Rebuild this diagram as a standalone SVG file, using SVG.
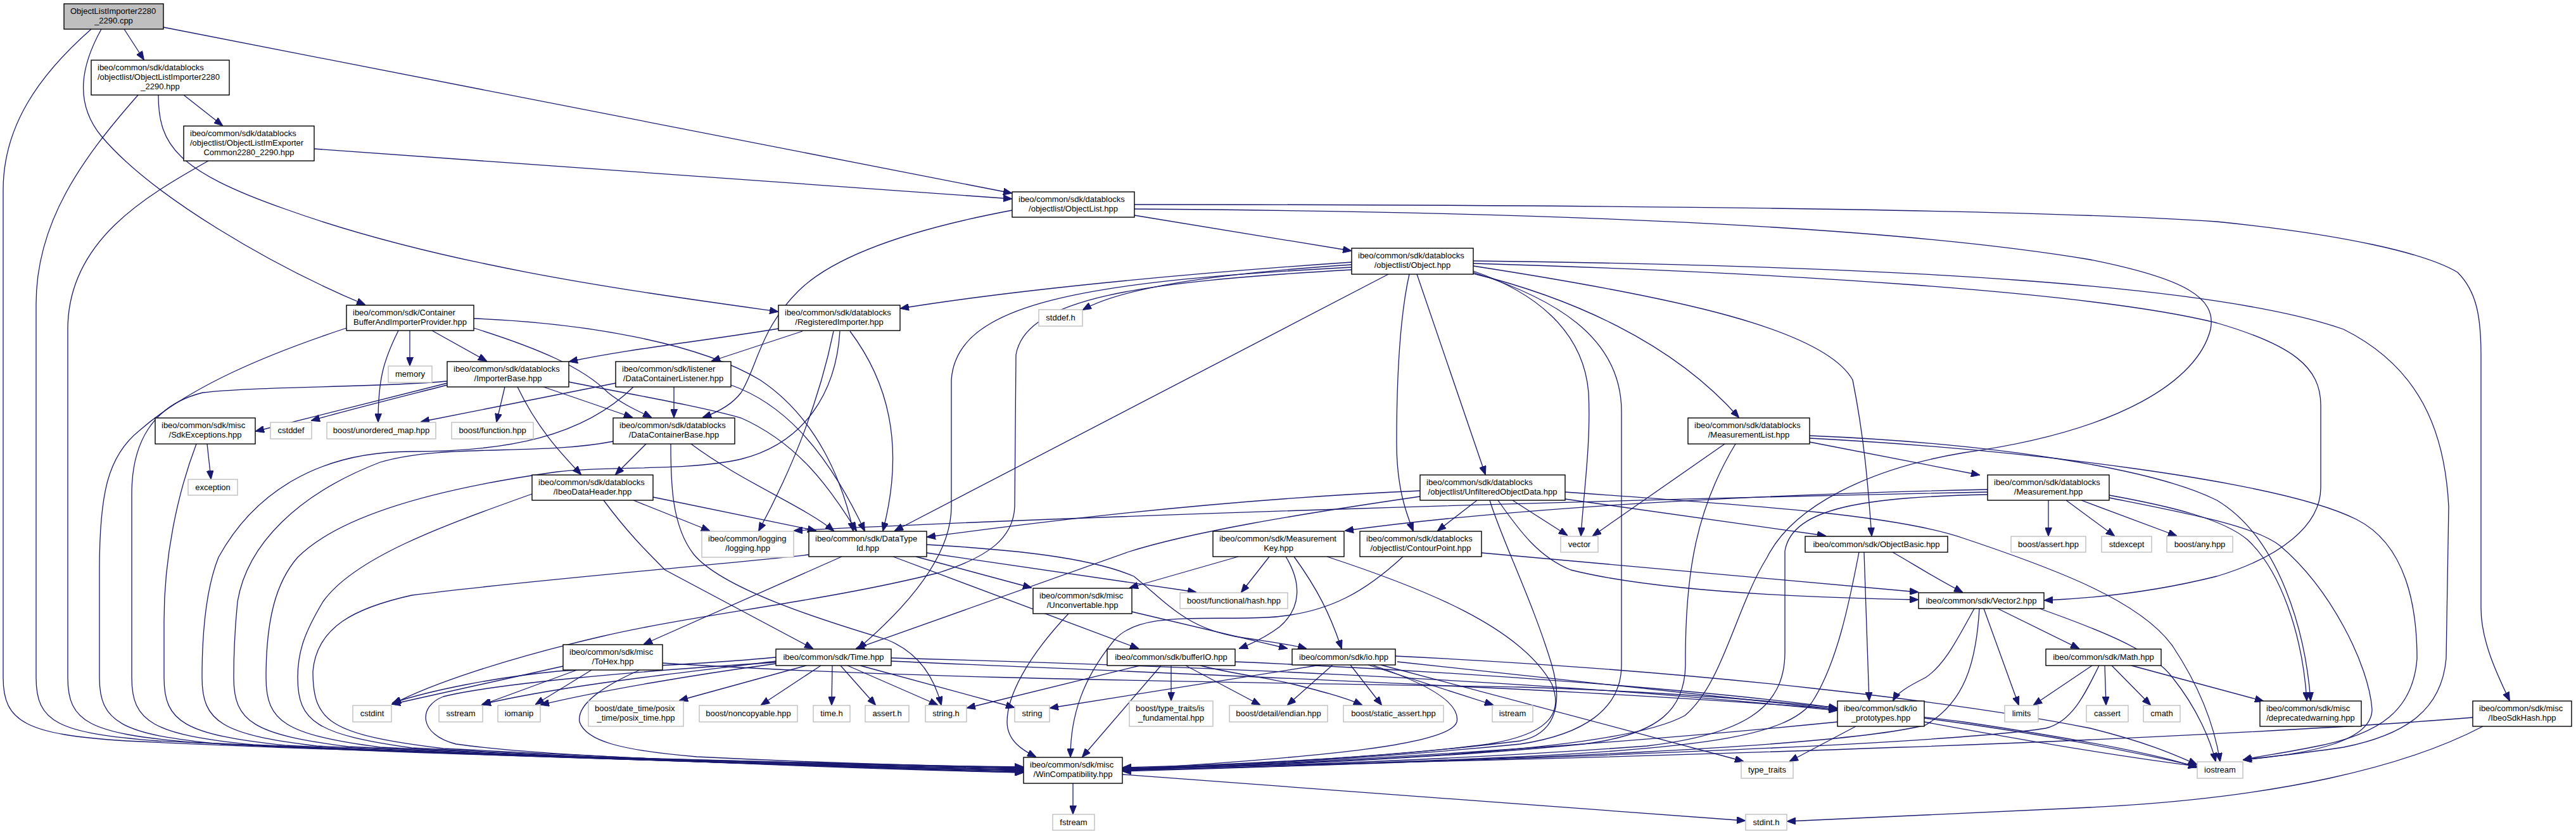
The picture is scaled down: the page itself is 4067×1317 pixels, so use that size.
<svg xmlns="http://www.w3.org/2000/svg" width="4067" height="1317" viewBox="0 0 4067 1317">
<defs>
<style>
.n rect{fill:#fff;stroke:#000;stroke-width:1.4}
.x rect{stroke:#bfbfbf}
.r rect{fill:#bfbfbf}
text{font-family:"Liberation Sans",Arial,sans-serif;font-size:13px;fill:#000}
.c{text-anchor:middle}
#edges path{fill:none;stroke:#191970;stroke-width:1.3;marker-end:url(#a)}
</style>
<marker id="a" markerUnits="userSpaceOnUse" markerWidth="14" markerHeight="11" refX="13" refY="5.5" orient="auto" viewBox="0 0 14 11"><path d="M0,0 L14,5.5 L0,11 z" fill="#191970" stroke="#191970" stroke-width="1"/></marker>
</defs>
<rect width="4067" height="1317" fill="#fff"/>
<g id="edges">
<path d="M196,46 L227,94"/>
<path d="M160,46 C130,100 115,160 160,215 C240,310 430,420 576,481"/>
<path d="M258,43 L1597,305"/>
<path d="M144,46 C60,120 5,200 5,300 L5,1070 C5,1140 40,1160 200,1170 C600,1190 1300,1205 1615,1212"/>
<path d="M290,150 L351,198"/>
<path d="M250,150 C250,230 280,270 450,330 C700,420 1000,460 1228,492"/>
<path d="M218,150 C130,250 57,350 57,480 L57,1070 C57,1140 90,1158 250,1170 C650,1190 1300,1205 1615,1213"/>
<path d="M496,235 L1597,314"/>
<path d="M329,254 C230,310 107,380 107,520 L107,1070 C107,1140 140,1158 300,1172 C700,1192 1300,1206 1615,1213"/>
<path d="M1791,340 L2133,396"/>
<path d="M1791,323 C2500,323 3200,330 3500,350 C3700,370 3830,400 3880,430 C3910,460 3917,500 3917,560 L3917,960 C3917,1010 3940,1060 3962,1106"/>
<path d="M1598,332 C1450,360 1320,400 1260,460 C1200,520 1195,580 1170,620 C1155,640 1130,652 1110,659"/>
<path d="M1791,330 C2500,335 3000,360 3300,410 C3450,440 3500,470 3490,520 C3470,600 3350,680 3100,715 C2950,740 2830,800 2790,880 C2740,960 2720,1080 2660,1130 C2560,1185 2200,1200 1773,1215"/>
<path d="M2134,414 C1900,430 1620,455 1422,487"/>
<path d="M2134,418 C1950,430 1780,450 1710,489"/>
<path d="M2192,433 L1413,838"/>
<path d="M2134,422 C1700,445 1510,480 1502,600 L1502,800 C1502,880 1430,960 1355,1024"/>
<path d="M2134,426 C1800,445 1620,470 1604,560 L1602,800 C1600,850 1560,880 1480,905 C1300,950 1100,970 950,1005 C800,1040 680,1080 620,1112"/>
<path d="M2225,433 C2210,500 2205,600 2205,700 C2205,770 2220,810 2231,838"/>
<path d="M2237,433 L2345,749"/>
<path d="M2326,428 C2420,460 2500,520 2508,620 C2512,700 2500,780 2496,846"/>
<path d="M2326,430 C2450,470 2560,530 2560,650 L2560,1050 C2560,1120 2500,1160 2400,1175 C2200,1195 1950,1210 1773,1213"/>
<path d="M2326,432 C2480,470 2640,540 2745,659"/>
<path d="M2326,420 C2650,470 2880,520 2925,600 C2945,700 2950,780 2955,846"/>
<path d="M2326,416 C2800,430 3300,460 3500,510 C3620,545 3664,580 3664,640 L3664,770 C3664,830 3600,880 3500,910 C3400,935 3300,945 3228,948"/>
<path d="M2326,412 C3000,420 3500,450 3700,520 C3820,580 3860,680 3866,800 L3862,1040 C3855,1120 3800,1160 3700,1180 C3620,1192 3570,1196 3542,1200"/>
<path d="M647,522 L647,577"/>
<path d="M682,522 L768,570"/>
<path d="M629,522 C605,570 597,600 597,666"/>
<path d="M547,518 C420,560 300,610 220,680 C170,720 157,780 157,900 L157,1070 C157,1140 190,1160 350,1175 C750,1195 1300,1208 1615,1214"/>
<path d="M748,518 C850,550 920,580 960,620 C985,640 1010,650 1028,659"/>
<path d="M748,503 C920,510 1100,540 1200,600 C1290,660 1330,760 1347,838"/>
<path d="M706,605 L404,681"/>
<path d="M706,608 C620,630 540,650 492,664"/>
<path d="M706,602 C600,612 400,610 320,620 C240,640 208,700 208,780 L208,1070 C208,1140 240,1160 400,1176 C800,1196 1300,1209 1615,1215"/>
<path d="M797,611 L784,666"/>
<path d="M817,611 C850,680 890,720 917,749"/>
<path d="M858,611 L998,659"/>
<path d="M898,603 C980,620 1100,640 1170,660 C1260,700 1310,770 1352,838"/>
<path d="M327,701 L333,756"/>
<path d="M310,701 C280,780 259,880 259,980 L259,1070 C259,1140 290,1160 450,1177 C850,1197 1300,1210 1615,1216"/>
<path d="M972,605 L665,666"/>
<path d="M1064,611 L1064,659"/>
<path d="M1000,611 C920,690 800,713 650,713 C500,713 400,780 345,880 C325,930 319,1000 319,1070 C319,1140 350,1160 500,1178 C900,1198 1300,1210 1615,1217"/>
<path d="M1154,608 C1230,635 1300,700 1365,838"/>
<path d="M968,697 C850,720 700,700 600,730 C470,780 390,860 375,950 C370,1000 369,1030 369,1070 C369,1140 400,1160 550,1179 C950,1199 1300,1211 1615,1218"/>
<path d="M1020,701 L972,749"/>
<path d="M1091,701 C1170,760 1270,800 1316,838"/>
<path d="M1059,701 C1059,760 1060,830 1095,875 C1140,930 1300,980 1400,1010 C1450,1030 1475,1070 1486,1113"/>
<path d="M1267,523 L1124,570"/>
<path d="M1229,519 C1100,540 1000,550 899,571"/>
<path d="M1316,523 C1290,650 1240,760 1198,838"/>
<path d="M1326,523 C1320,620 1270,700 1170,725 C1080,745 960,735 880,745 C700,770 540,810 470,880 C435,920 420,980 420,1070 C420,1140 450,1160 600,1180 C1000,1200 1300,1212 1615,1219"/>
<path d="M1342,523 C1400,600 1430,700 1394,838"/>
<path d="M1031,785 L1288,838"/>
<path d="M1000,790 L1120,838"/>
<path d="M953,790 C990,840 1020,870 1050,900 L1283,1024"/>
<path d="M840,780 C700,830 560,880 510,950 C480,1000 470,1030 470,1070 C470,1140 500,1160 650,1181 C1050,1201 1300,1213 1615,1220"/>
<path d="M1329,879 L1017,1017"/>
<path d="M1277,876 C1100,895 800,920 650,940 C560,960 500,990 494,1060 C494,1140 520,1160 700,1182 C1100,1202 1350,1213 1615,1220"/>
<path d="M1410,879 L1797,1024"/>
<path d="M1446,879 L1628,928"/>
<path d="M1463,873 L1888,935"/>
<path d="M1463,860 C1600,868 1720,880 1790,910 C1840,950 1870,990 1950,1005 C2000,1013 2040,1018 2062,1024"/>
<path d="M2004,879 L1960,935"/>
<path d="M1955,879 L1784,928"/>
<path d="M2030,879 C2055,920 2055,960 2020,990 C2000,1005 1980,1015 1957,1024"/>
<path d="M2043,879 C2080,930 2100,970 2118,1024"/>
<path d="M2095,879 C2250,930 2400,990 2450,1080 C2470,1130 2440,1160 2350,1175 C2200,1195 1950,1208 1773,1212"/>
<path d="M2215,879 C2160,930 2100,970 2000,975 C1900,980 1800,965 1760,1010 C1710,1070 1690,1130 1690,1195"/>
<path d="M2339,873 L3028,935"/>
<path d="M2332,790 L2270,838"/>
<path d="M2388,790 L2474,845"/>
<path d="M2471,788 L2882,846"/>
<path d="M2365,790 C2400,840 2430,880 2480,900 C2600,930 2800,943 3028,947"/>
<path d="M2352,790 C2370,850 2420,950 2450,1050 C2470,1120 2450,1160 2400,1170 C2200,1195 1950,1208 1773,1214"/>
<path d="M2471,777 C2800,800 3000,815 3100,850 C3250,900 3380,950 3430,1020 C3470,1080 3495,1140 3505,1202"/>
<path d="M2242,775 C1900,790 1600,830 1464,848"/>
<path d="M3138,777 C2500,790 1700,815 1254,838"/>
<path d="M2242,784 C2050,812 1880,840 1780,872 L1352,1024"/>
<path d="M2723,701 L2515,846"/>
<path d="M2740,701 C2680,800 2660,900 2661,1050 C2660,1120 2620,1160 2500,1175 C2300,1195 2000,1210 1773,1215"/>
<path d="M2857,698 L3125,750"/>
<path d="M2857,688 C3150,700 3400,740 3500,790 C3600,850 3640,1000 3648,1106"/>
<path d="M2857,692 C3200,710 3600,760 3720,820 C3800,860 3816,960 3816,1040 C3810,1120 3760,1160 3650,1180 C3600,1190 3560,1195 3542,1200"/>
<path d="M3234,790 L3234,846"/>
<path d="M3262,790 L3338,846"/>
<path d="M3286,790 L3436,846"/>
<path d="M3138,773 C2800,780 2400,800 2124,838"/>
<path d="M3138,781 C2950,785 2830,800 2818,870 L2818,1030 C2818,1120 2750,1160 2600,1178 C2300,1200 2000,1210 1773,1215"/>
<path d="M3330,782 C3430,800 3510,820 3548,852 C3600,900 3635,1000 3642,1106"/>
<path d="M3330,786 C3450,810 3560,830 3600,862 C3680,930 3740,1050 3745,1120 C3745,1170 3650,1190 3542,1200"/>
<path d="M2988,872 C3020,890 3050,910 3098,935"/>
<path d="M2943,872 L2951,1106"/>
<path d="M2935,872 C2920,950 2900,1050 2860,1110 C2820,1160 2700,1180 2400,1195 C2100,1208 1900,1214 1773,1216"/>
<path d="M3154,961 L3282,1024"/>
<path d="M3132,961 L3187,1113"/>
<path d="M3220,961 C3330,1000 3400,1030 3430,1070 C3470,1120 3490,1170 3498,1202"/>
<path d="M3117,961 C3090,1010 3070,1050 3040,1070 C3010,1085 2995,1095 2989,1106"/>
<path d="M3125,961 C3120,1050 3100,1110 3040,1145 C2900,1180 2400,1200 1773,1217"/>
<path d="M3303,1051 L3211,1113"/>
<path d="M3323,1051 L3325,1113"/>
<path d="M3334,1051 L3395,1113"/>
<path d="M3365,1051 L3573,1107"/>
<path d="M3314,1051 C3290,1100 3270,1140 3230,1150 C3100,1170 2700,1190 1773,1218"/>
<path d="M1687,969 C1620,1040 1590,1100 1590,1140 C1590,1170 1615,1185 1635,1195"/>
<path d="M1787,966 L2032,1024"/>
<path d="M1833,1051 L1709,1195"/>
<path d="M1800,1051 L1527,1118"/>
<path d="M1849,1051 L1849,1106"/>
<path d="M1872,1051 L1989,1113"/>
<path d="M1895,1051 C1950,1065 2000,1070 2040,1080 C2080,1090 2120,1100 2150,1113"/>
<path d="M1950,1045 C2300,1060 2700,1090 2900,1118"/>
<path d="M2104,1050 L2033,1113"/>
<path d="M2132,1050 L2181,1113"/>
<path d="M2160,1050 L2357,1113"/>
<path d="M2180,1050 L2752,1202"/>
<path d="M2206,1045 L2900,1120"/>
<path d="M2166,1050 C2270,1085 2305,1115 2300,1140 C2290,1175 2100,1195 1773,1215"/>
<path d="M2203,1036 C2700,1060 3100,1110 3300,1150 C3400,1175 3440,1195 3468,1207"/>
<path d="M2085,1050 L1658,1118"/>
<path d="M1273,1051 L1073,1106"/>
<path d="M1296,1051 L1202,1113"/>
<path d="M1314,1051 L1313,1113"/>
<path d="M1327,1051 L1382,1113"/>
<path d="M1338,1051 L1480,1113"/>
<path d="M1358,1051 L1601,1117"/>
<path d="M1225,1044 C1100,1060 900,1080 762,1112"/>
<path d="M1225,1048 C1100,1065 950,1090 854,1113"/>
<path d="M1225,1038 C1100,1050 950,1055 880,1060 C780,1070 680,1090 620,1110"/>
<path d="M1225,1046 C1000,1060 780,1080 700,1100 C660,1115 660,1160 720,1175 C900,1200 1300,1208 1615,1211"/>
<path d="M1010,1058 C960,1080 910,1110 915,1140 C925,1170 980,1185 1100,1195 C1300,1205 1500,1210 1615,1212"/>
<path d="M889,1052 L619,1112"/>
<path d="M911,1058 L761,1113"/>
<path d="M934,1058 L846,1112"/>
<path d="M1046,1047 C1400,1070 1800,1075 2400,1085 C2900,1100 3250,1160 3468,1210"/>
<path d="M1407,1039 C1800,1050 2400,1070 2900,1122"/>
<path d="M1407,1044 C2000,1070 2800,1100 3100,1140 C3300,1170 3420,1195 3468,1212"/>
<path d="M2930,1147 L2826,1202"/>
<path d="M2901,1140 C2600,1170 2200,1200 1773,1216"/>
<path d="M3038,1140 C3200,1170 3350,1195 3468,1210"/>
<path d="M3904,1133 C3700,1150 3300,1170 3000,1180 C2600,1195 2200,1205 1773,1213"/>
<path d="M3920,1147 C3800,1210 3600,1260 3300,1275 C3100,1285 2950,1292 2822,1297"/>
<path d="M1694,1237 L1694,1285"/>
<path d="M1772,1223 L2755,1296"/>
</g>
<g id="n1" class="n r"><rect x="101" y="6" width="157" height="40"/><text x="111" y="21.5">ObjectListImporter2280</text><text x="179.5" y="36.5" class="c">_2290.cpp</text></g>
<g id="n2" class="n"><rect x="144" y="95" width="218" height="55"/><text x="154" y="110.5">ibeo/common/sdk/datablocks</text><text x="154" y="125.5">/objectlist/ObjectListImporter2280</text><text x="253" y="140.5" class="c">_2290.hpp</text></g>
<g id="n3" class="n"><rect x="290" y="199" width="206" height="55"/><text x="300" y="214.5">ibeo/common/sdk/datablocks</text><text x="300" y="229.5">/objectlist/ObjectListImExporter</text><text x="393" y="244.5" class="c">Common2280_2290.hpp</text></g>
<g id="n4" class="n"><rect x="1598" y="303" width="193" height="40"/><text x="1608" y="318.5">ibeo/common/sdk/datablocks</text><text x="1694.5" y="333.5" class="c">/objectlist/ObjectList.hpp</text></g>
<g id="n5" class="n"><rect x="2134" y="392" width="192" height="41"/><text x="2144" y="407.5">ibeo/common/sdk/datablocks</text><text x="2230" y="422.5" class="c">/objectlist/Object.hpp</text></g>
<g id="n6" class="n"><rect x="547" y="482" width="201" height="40"/><text x="557" y="497.5">ibeo/common/sdk/Container</text><text x="647.5" y="512.5" class="c">BufferAndImporterProvider.hpp</text></g>
<g id="n7" class="n"><rect x="1229" y="482" width="192" height="40"/><text x="1239" y="497.5">ibeo/common/sdk/datablocks</text><text x="1325" y="512.5" class="c">/RegisteredImporter.hpp</text></g>
<g id="n8" class="n x"><rect x="1640" y="489" width="69" height="26"/><text x="1674.5" y="506" class="c">stddef.h</text></g>
<g id="n9" class="n x"><rect x="613" y="578" width="69" height="26"/><text x="647.5" y="595" class="c">memory</text></g>
<g id="n10" class="n"><rect x="706" y="571" width="192" height="40"/><text x="716" y="586.5">ibeo/common/sdk/datablocks</text><text x="802" y="601.5" class="c">/ImporterBase.hpp</text></g>
<g id="n11" class="n"><rect x="972" y="571" width="182" height="40"/><text x="982" y="586.5">ibeo/common/sdk/listener</text><text x="1063" y="601.5" class="c">/DataContainerListener.hpp</text></g>
<g id="n12" class="n"><rect x="245" y="660" width="158" height="41"/><text x="255" y="675.5">ibeo/common/sdk/misc</text><text x="324" y="690.5" class="c">/SdkExceptions.hpp</text></g>
<g id="n13" class="n x"><rect x="427" y="667" width="65" height="26"/><text x="459.5" y="684" class="c">cstddef</text></g>
<g id="n14" class="n x"><rect x="516" y="667" width="172" height="26"/><text x="602" y="684" class="c">boost/unordered_map.hpp</text></g>
<g id="n15" class="n x"><rect x="713" y="667" width="129" height="26"/><text x="777.5" y="684" class="c">boost/function.hpp</text></g>
<g id="n16" class="n"><rect x="968" y="660" width="192" height="41"/><text x="978" y="675.5">ibeo/common/sdk/datablocks</text><text x="1064" y="690.5" class="c">/DataContainerBase.hpp</text></g>
<g id="n17" class="n"><rect x="2665" y="660" width="192" height="41"/><text x="2675" y="675.5">ibeo/common/sdk/datablocks</text><text x="2761" y="690.5" class="c">/MeasurementList.hpp</text></g>
<g id="n18" class="n x"><rect x="297" y="757" width="78" height="25"/><text x="336" y="773.5" class="c">exception</text></g>
<g id="n19" class="n"><rect x="840" y="750" width="191" height="40"/><text x="850" y="765.5">ibeo/common/sdk/datablocks</text><text x="935.5" y="780.5" class="c">/IbeoDataHeader.hpp</text></g>
<g id="n20" class="n"><rect x="2242" y="750" width="229" height="40"/><text x="2252" y="765.5">ibeo/common/sdk/datablocks</text><text x="2356.5" y="780.5" class="c">/objectlist/UnfilteredObjectData.hpp</text></g>
<g id="n21" class="n"><rect x="3138" y="750" width="192" height="40"/><text x="3148" y="765.5">ibeo/common/sdk/datablocks</text><text x="3234" y="780.5" class="c">/Measurement.hpp</text></g>
<g id="n22" class="n x"><rect x="1108" y="839" width="145" height="41"/><text x="1118" y="854.5">ibeo/common/logging</text><text x="1180.5" y="869.5" class="c">/logging.hpp</text></g>
<g id="n23" class="n"><rect x="1277" y="839" width="186" height="40"/><text x="1287" y="854.5">ibeo/common/sdk/DataType</text><text x="1370" y="869.5" class="c">Id.hpp</text></g>
<g id="n24" class="n"><rect x="1915" y="839" width="207" height="40"/><text x="1925" y="854.5">ibeo/common/sdk/Measurement</text><text x="2018.5" y="869.5" class="c">Key.hpp</text></g>
<g id="n25" class="n"><rect x="2147" y="839" width="192" height="40"/><text x="2157" y="854.5">ibeo/common/sdk/datablocks</text><text x="2243" y="869.5" class="c">/objectlist/ContourPoint.hpp</text></g>
<g id="n26" class="n x"><rect x="2464" y="847" width="59" height="25"/><text x="2493.5" y="864" class="c">vector</text></g>
<g id="n27" class="n"><rect x="2850" y="847" width="225" height="25"/><text x="2962.5" y="864" class="c">ibeo/common/sdk/ObjectBasic.hpp</text></g>
<g id="n28" class="n x"><rect x="3175" y="847" width="118" height="25"/><text x="3234" y="864" class="c">boost/assert.hpp</text></g>
<g id="n29" class="n x"><rect x="3318" y="847" width="79" height="25"/><text x="3357.5" y="864" class="c">stdexcept</text></g>
<g id="n30" class="n x"><rect x="3421" y="847" width="104" height="25"/><text x="3473" y="864" class="c">boost/any.hpp</text></g>
<g id="n31" class="n"><rect x="1631" y="929" width="156" height="40"/><text x="1641" y="944.5">ibeo/common/sdk/misc</text><text x="1709" y="959.5" class="c">/Unconvertable.hpp</text></g>
<g id="n32" class="n x"><rect x="1863" y="936" width="170" height="25"/><text x="1948" y="953" class="c">boost/functional/hash.hpp</text></g>
<g id="n33" class="n"><rect x="3029" y="936" width="198" height="25"/><text x="3128" y="953" class="c">ibeo/common/sdk/Vector2.hpp</text></g>
<g id="n34" class="n"><rect x="889" y="1018" width="157" height="40"/><text x="899" y="1033.5">ibeo/common/sdk/misc</text><text x="967.5" y="1048.5" class="c">/ToHex.hpp</text></g>
<g id="n35" class="n"><rect x="1225" y="1025" width="182" height="26"/><text x="1316" y="1042" class="c">ibeo/common/sdk/Time.hpp</text></g>
<g id="n36" class="n"><rect x="1748" y="1025" width="202" height="26"/><text x="1849" y="1042" class="c">ibeo/common/sdk/bufferIO.hpp</text></g>
<g id="n37" class="n"><rect x="2040" y="1025" width="163" height="25"/><text x="2121.5" y="1042" class="c">ibeo/common/sdk/io.hpp</text></g>
<g id="n38" class="n"><rect x="3230" y="1025" width="182" height="26"/><text x="3321" y="1042" class="c">ibeo/common/sdk/Math.hpp</text></g>
<g id="n39" class="n x"><rect x="557" y="1114" width="61" height="26"/><text x="587.5" y="1131" class="c">cstdint</text></g>
<g id="n40" class="n x"><rect x="693" y="1114" width="69" height="26"/><text x="727.5" y="1131" class="c">sstream</text></g>
<g id="n41" class="n x"><rect x="786" y="1114" width="67" height="26"/><text x="819.5" y="1131" class="c">iomanip</text></g>
<g id="n42" class="n x"><rect x="929" y="1107" width="150" height="40"/><text x="939" y="1122.5">boost/date_time/posix</text><text x="1004" y="1137.5" class="c">_time/posix_time.hpp</text></g>
<g id="n43" class="n x"><rect x="1104" y="1114" width="155" height="26"/><text x="1181.5" y="1131" class="c">boost/noncopyable.hpp</text></g>
<g id="n44" class="n x"><rect x="1284" y="1114" width="58" height="26"/><text x="1313" y="1131" class="c">time.h</text></g>
<g id="n45" class="n x"><rect x="1366" y="1114" width="69" height="26"/><text x="1400.5" y="1131" class="c">assert.h</text></g>
<g id="n46" class="n x"><rect x="1461" y="1114" width="65" height="26"/><text x="1493.5" y="1131" class="c">string.h</text></g>
<g id="n47" class="n x"><rect x="1602" y="1114" width="55" height="26"/><text x="1629.5" y="1131" class="c">string</text></g>
<g id="n48" class="n x"><rect x="1783" y="1107" width="132" height="40"/><text x="1793" y="1122.5">boost/type_traits/is</text><text x="1849" y="1137.5" class="c">_fundamental.hpp</text></g>
<g id="n49" class="n x"><rect x="1941" y="1114" width="155" height="26"/><text x="2018.5" y="1131" class="c">boost/detail/endian.hpp</text></g>
<g id="n50" class="n x"><rect x="2121" y="1114" width="158" height="26"/><text x="2200" y="1131" class="c">boost/static_assert.hpp</text></g>
<g id="n51" class="n x"><rect x="2356" y="1114" width="64" height="26"/><text x="2388" y="1131" class="c">istream</text></g>
<g id="n52" class="n"><rect x="2901" y="1107" width="137" height="40"/><text x="2911" y="1122.5">ibeo/common/sdk/io</text><text x="2969.5" y="1137.5" class="c">_prototypes.hpp</text></g>
<g id="n53" class="n x"><rect x="3165" y="1114" width="53" height="26"/><text x="3191.5" y="1131" class="c">limits</text></g>
<g id="n54" class="n x"><rect x="3294" y="1114" width="66" height="26"/><text x="3327" y="1131" class="c">cassert</text></g>
<g id="n55" class="n x"><rect x="3384" y="1114" width="58" height="26"/><text x="3413" y="1131" class="c">cmath</text></g>
<g id="n56" class="n"><rect x="3568" y="1107" width="160" height="40"/><text x="3578" y="1122.5">ibeo/common/sdk/misc</text><text x="3648" y="1137.5" class="c">/deprecatedwarning.hpp</text></g>
<g id="n57" class="n"><rect x="3904" y="1107" width="156" height="40"/><text x="3914" y="1122.5">ibeo/common/sdk/misc</text><text x="3982" y="1137.5" class="c">/IbeoSdkHash.hpp</text></g>
<g id="n58" class="n"><rect x="1616" y="1196" width="156" height="41"/><text x="1626" y="1211.5">ibeo/common/sdk/misc</text><text x="1694" y="1226.5" class="c">/WinCompatibility.hpp</text></g>
<g id="n59" class="n x"><rect x="2749" y="1203" width="82" height="26"/><text x="2790" y="1220" class="c">type_traits</text></g>
<g id="n60" class="n x"><rect x="3469" y="1203" width="72" height="26"/><text x="3505" y="1220" class="c">iostream</text></g>
<g id="n61" class="n x"><rect x="1662" y="1286" width="66" height="25"/><text x="1695" y="1303" class="c">fstream</text></g>
<g id="n62" class="n x"><rect x="2756" y="1286" width="65" height="25"/><text x="2788.5" y="1303" class="c">stdint.h</text></g>
</svg>
